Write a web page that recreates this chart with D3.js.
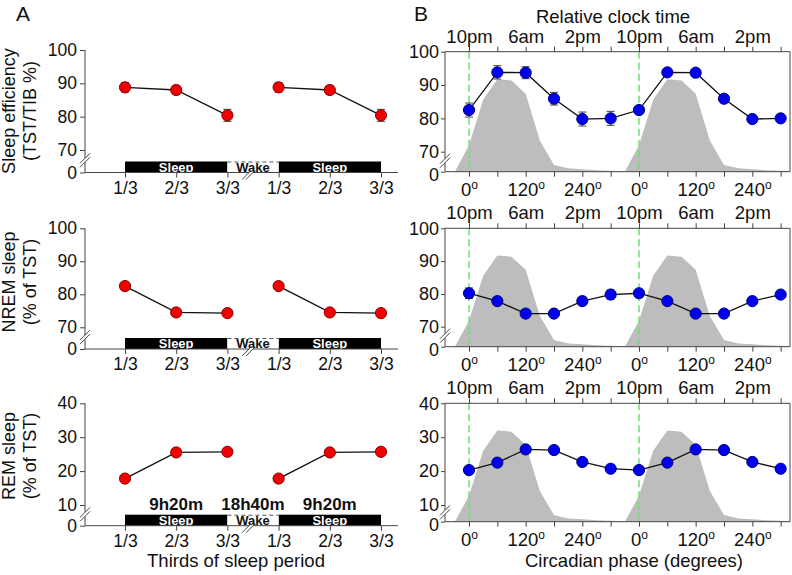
<!DOCTYPE html>
<html><head><meta charset="utf-8">
<script src="https://cdn.jsdelivr.net/npm/d3@7"></script>
<style>
body{margin:0;background:#fff}
svg{display:block}
text{font-family:"Liberation Sans",Arial,Helvetica,sans-serif;fill:#111}
</style>
</head><body>
<svg id="c" width="792" height="575"></svg>
<script>
// ---------- data ----------
const thirds = ["1/3", "2/3", "3/3"];
const effA = [88.8, 88.0, 80.4];
const effAErr = [1.4, 1.3, 1.8];
const nremA = [82.5, 74.5, 74.3];
const nremAErr = [0.8, 0.8, 0.9];
const remA = [17.8, 25.5, 25.7];
const remAErr = [0.9, 0.8, 0.8];

const phases = [0, 60, 120, 180, 240, 300];
const effB = [82.5, 93.8, 93.7, 85.9, 79.8, 80.0];
const effBErr = [2.1, 2.0, 1.8, 1.9, 2.1, 2.1];
const nremB = [80.2, 77.8, 74.0, 74.0, 77.8, 79.8];
const nremBErr = [1.6, 1.2, 1.2, 1.2, 1.2, 1.4];
const remB = [20.3, 22.5, 26.4, 26.2, 22.7, 20.7];
const remBErr = [1.1, 1.0, 1.0, 1.1, 1.0, 1.1];

const melPhase = [-30, 0, 30, 60, 90, 120, 150, 180, 210, 240, 270, 300, 330];
const melLevel = [0, 0.22, 0.6, 0.77, 0.76, 0.65, 0.26, 0.056, 0.028, 0.02, 0.013, 0.008, 0.004];

const clockLabels = ["10pm", "6am", "2pm"];
const degLabels = ["0", "120", "240"];
const durLabels = ["9h20m", "18h40m", "9h20m"];
const pctTicks = [0, 70, 80, 90, 100];
const remTicks = [0, 10, 20, 30, 40];

// ---------- layout ----------
const rows = [
  {lab: ["Sleep efficiency", "(TST/TIB %)"], labY: 111, a: effA, aErr: effAErr, b: effB, bErr: effBErr,
   ticks: pctTicks, brk: 70, max: 100, yMaxA: 50, yBrkA: 150, y0A: 172.5, yMaxB: 51.7, yBrkB: 151.7, y0B: 171.7},
  {lab: ["NREM sleep", "(% of TST)"], labY: 282, a: nremA, aErr: nremAErr, b: nremB, bErr: nremBErr,
   ticks: pctTicks, brk: 70, max: 100, yMaxA: 228.3, yBrkA: 327.3, y0A: 349, yMaxB: 228.3, yBrkB: 326.7, y0B: 346.7},
  {lab: ["REM sleep", "(% of TST)"], labY: 456, a: remA, aErr: remAErr, b: remB, bErr: remBErr,
   ticks: remTicks, brk: 10, max: 40, yMaxA: 403.3, yBrkA: 505, y0A: 525.7, yMaxB: 403.3, yBrkB: 505, y0B: 521.7}
];

const svg = d3.select("#c");
const AXC = "#444";
const xA = d3.scaleLinear().domain([0, 5]).range([125, 381]);
const xB = d3.scaleLinear().domain([0, 360]).range([469, 639]);
const axAx = 85, axAright = 398;
const bL = 445, bR = 790;

function breakY(g, x, yc) {
  g.append("polygon").attr("points", `${x-5},${yc+3} ${x+5},${yc-7} ${x+5},${yc-3} ${x-5},${yc+7}`).attr("fill", "#fff");
  g.append("line").attr("x1", x-5).attr("y1", yc+3).attr("x2", x+5).attr("y2", yc-7).attr("stroke", AXC);
  g.append("line").attr("x1", x-5).attr("y1", yc+7).attr("x2", x+5).attr("y2", yc-3).attr("stroke", AXC);
}

svg.append("text").attr("x", 16).attr("y", 21).attr("font-size", 21).text("A");
svg.append("text").attr("x", 414).attr("y", 21).attr("font-size", 21).text("B");
svg.append("text").attr("x", 613).attr("y", 23).attr("font-size", 18.5).attr("text-anchor", "middle").text("Relative clock time");
svg.append("text").attr("x", 236).attr("y", 567).attr("font-size", 18.5).attr("text-anchor", "middle").text("Thirds of sleep period");
svg.append("text").attr("x", 634).attr("y", 567).attr("font-size", 18.5).attr("text-anchor", "middle").text("Circadian phase (degrees)");

rows.forEach((r, ri) => {
  // ===== Panel A =====
  const g = svg.append("g");
  const y = d3.scaleLinear().domain([0, r.brk, r.max]).range([r.y0A, r.yBrkA, r.yMaxA]);
  g.append("text").attr("transform", `translate(15,${r.labY}) rotate(-90)`).attr("font-size", 18).attr("text-anchor", "middle").text(r.lab[0]);
  g.append("text").attr("transform", `translate(36,${r.labY}) rotate(-90)`).attr("font-size", 18).attr("text-anchor", "middle").text(r.lab[1]);
  const ya = g.append("g").attr("transform", `translate(${axAx},0)`).call(d3.axisLeft(y).tickValues(r.ticks).tickSize(5).tickPadding(3));
  ya.select(".domain").remove();
  ya.selectAll("line").attr("stroke", AXC);
  ya.selectAll("text").attr("font-size", 17.5).attr("font-family", "Liberation Sans, Arial, sans-serif").attr("fill", "#111");
  const ycA = (r.yBrkA + r.y0A) / 2 - 1;
  g.append("line").attr("x1", axAx).attr("x2", axAx).attr("y1", r.yMaxA).attr("y2", ycA - 2).attr("stroke", AXC);
  g.append("line").attr("x1", axAx).attr("x2", axAx).attr("y1", ycA + 2).attr("y2", r.y0A).attr("stroke", AXC);
  breakY(g, axAx, ycA);
  // sleep / wake bars
  const bh = 11;
  [[0, 2, "Sleep"], [3, 5, "Sleep"]].forEach(([s, e, t]) => {
    g.append("rect").attr("x", xA(s)).attr("y", r.y0A - bh).attr("width", xA(e) - xA(s)).attr("height", bh).attr("fill", "#000");
    g.append("text").attr("x", (xA(s) + xA(e)) / 2).attr("y", r.y0A - 0.8).attr("font-size", 13).attr("font-weight", "bold")
      .attr("text-anchor", "middle").style("fill", "#fff").text(t);
  });
  g.append("rect").attr("x", xA(2)).attr("y", r.y0A - bh).attr("width", xA(3) - xA(2)).attr("height", bh).attr("fill", "#fff");
  g.append("line").attr("x1", xA(2)).attr("x2", xA(3)).attr("y1", r.y0A - bh + 0.5).attr("y2", r.y0A - bh + 0.5)
    .attr("stroke", "#555").attr("stroke-dasharray", "4,3");
  g.append("text").attr("x", (xA(2) + xA(3)) / 2).attr("y", r.y0A - 0.8).attr("font-size", 13).attr("font-weight", "bold")
    .attr("text-anchor", "middle").text("Wake");
  if (ri === 2) {
    [[0, 2], [2, 3], [3, 5]].forEach(([s, e], k) => {
      g.append("text").attr("x", (xA(s) + xA(e)) / 2).attr("y", r.y0A - bh - 5).attr("font-size", 17).attr("font-weight", "bold")
        .attr("text-anchor", "middle").text(durLabels[k]);
    });
  }
  // x axis
  const xa = g.append("g").attr("transform", `translate(0,${r.y0A})`).call(d3.axisBottom(xA).tickValues([0, 1, 2, 3, 4, 5]).tickFormat(i => thirds[i % 3]).tickSize(5).tickPadding(4));
  xa.select(".domain").remove();
  xa.selectAll("line").attr("stroke", AXC);
  xa.selectAll("text").attr("font-size", 17.5).attr("font-family", "Liberation Sans, Arial, sans-serif").attr("fill", "#111");
  const xb = 249;
  g.append("line").attr("x1", axAx).attr("x2", xb).attr("y1", r.y0A).attr("y2", r.y0A).attr("stroke", AXC);
  g.append("line").attr("x1", xb + 4).attr("x2", axAright).attr("y1", r.y0A).attr("y2", r.y0A).attr("stroke", AXC);
  g.append("line").attr("x1", xb - 7).attr("y1", r.y0A + 7).attr("x2", xb + 1).attr("y2", r.y0A - 1).attr("stroke", AXC);
  g.append("line").attr("x1", xb - 3).attr("y1", r.y0A + 7).attr("x2", xb + 5).attr("y2", r.y0A - 1).attr("stroke", AXC);
  // data
  [0, 1].forEach(c => {
    const pts = r.a.map((v, j) => ({i: c * 3 + j, v, e: r.aErr[j]}));
    g.append("path").datum(pts).attr("fill", "none").attr("stroke", "#111").attr("stroke-width", 1.3)
      .attr("d", d3.line().x(d => xA(d.i)).y(d => y(d.v)));
    pts.forEach(d => {
      const cx = xA(d.i);
      g.append("line").attr("x1", cx).attr("x2", cx).attr("y1", y(d.v - d.e)).attr("y2", y(d.v + d.e)).attr("stroke", "#444");
      [d.v - d.e, d.v + d.e].forEach(v => g.append("line").attr("x1", cx - 4).attr("x2", cx + 4).attr("y1", y(v)).attr("y2", y(v)).attr("stroke", "#444"));
    });
    g.selectAll(null).data(pts).enter().append("circle").attr("cx", d => xA(d.i)).attr("cy", d => y(d.v)).attr("r", 5.6)
      .attr("fill", "#f00000").attr("stroke", "#8a0000").attr("stroke-width", 1);
  });

  // ===== Panel B =====
  const h = svg.append("g");
  const yb = d3.scaleLinear().domain([0, r.brk, r.max]).range([r.y0B, r.yBrkB, r.yMaxB]);
  const hgt = r.y0B - r.yMaxB;
  const clipId = "clip" + ri;
  h.append("clipPath").attr("id", clipId).append("rect").attr("x", bL).attr("y", r.yMaxB).attr("width", bR - bL).attr("height", hgt);
  const mel = [];
  [0, 360].forEach(off => melPhase.forEach((p, k) => mel.push({p: p + off, v: melLevel[k]})));
  h.append("path").datum(mel).attr("clip-path", `url(#${clipId})`).attr("fill", "#bdbdbd")
    .attr("d", d3.area().x(d => xB(d.p)).y0(r.y0B).y1(d => r.y0B - d.v * hgt));
  [0, 360].forEach(p => h.append("line").attr("x1", xB(p)).attr("x2", xB(p)).attr("y1", r.yMaxB).attr("y2", r.y0B)
    .attr("stroke", "#6fe06f").attr("stroke-width", 1.5).attr("stroke-dasharray", "7,4"));
  const ycB = (r.yBrkB + r.y0B) / 2 - 1;
  h.append("path").attr("fill", "none").attr("stroke", AXC)
    .attr("d", `M${bL},${ycB - 2}V${r.yMaxB}H${bR}V${r.y0B}H${bL}V${ycB + 2}`);
  breakY(h, bL, ycB);
  const ticksDeg = d3.range(0, 661, 60);
  const ya2 = h.append("g").attr("transform", `translate(${bL},0)`).call(d3.axisLeft(yb).tickValues(r.ticks).tickSize(4).tickPadding(2));
  ya2.select(".domain").remove();
  ya2.selectAll("line").attr("stroke", AXC);
  ya2.selectAll("text").attr("font-size", 18).attr("font-family", "Liberation Sans, Arial, sans-serif").attr("fill", "#111");
  ya2.selectAll(".tick").filter(d => d === 0).select("text").attr("dy", "0.5em");
  const xb2 = h.append("g").attr("transform", `translate(0,${r.y0B})`).call(d3.axisBottom(xB).tickValues(ticksDeg).tickSize(5).tickPadding(5).tickFormat(""));
  xb2.select(".domain").remove();
  xb2.selectAll("line").attr("stroke", AXC);
  xb2.selectAll(".tick").each(function(d) {
    if (d % 120 !== 0) return;
    const t = d3.select(this).append("text").attr("y", 24).attr("font-size", 18.5).attr("text-anchor", "middle").attr("fill", "#111")
      .attr("font-family", "Liberation Sans, Arial, sans-serif");
    t.append("tspan").text(degLabels[(d % 360) / 120]);
    t.append("tspan").attr("dy", -7).attr("font-size", 12).text("o");
  });
  const xt2 = h.append("g").attr("transform", `translate(0,${r.yMaxB})`).call(d3.axisTop(xB).tickValues(ticksDeg).tickSize(5).tickPadding(5).tickFormat(""));
  xt2.select(".domain").remove();
  xt2.selectAll("line").attr("stroke", AXC);
  xt2.selectAll(".tick").each(function(d) {
    if (d % 120 !== 0) return;
    d3.select(this).append("text").attr("y", -9).attr("font-size", 18.5).attr("text-anchor", "middle").attr("fill", "#111")
      .attr("font-family", "Liberation Sans, Arial, sans-serif").text(clockLabels[(d % 360) / 120]);
  });
  // data
  const ptsB = [];
  [0, 360].forEach(off => r.b.forEach((v, k) => ptsB.push({p: phases[k] + off, v, e: off === 0 ? r.bErr[k] : 0})));
  h.append("path").datum(ptsB).attr("fill", "none").attr("stroke", "#111").attr("stroke-width", 1.3)
    .attr("d", d3.line().x(d => xB(d.p)).y(d => yb(d.v)));
  ptsB.filter(d => d.e > 0).forEach(d => {
    const cx = xB(d.p);
    h.append("line").attr("x1", cx).attr("x2", cx).attr("y1", yb(d.v - d.e)).attr("y2", yb(d.v + d.e)).attr("stroke", "#444");
    [d.v - d.e, d.v + d.e].forEach(v => h.append("line").attr("x1", cx - 4).attr("x2", cx + 4).attr("y1", yb(v)).attr("y2", yb(v)).attr("stroke", "#444"));
  });
  h.selectAll(null).data(ptsB).enter().append("circle").attr("cx", d => xB(d.p)).attr("cy", d => yb(d.v)).attr("r", 5.6)
    .attr("fill", "#0000f0").attr("stroke", "#00007a").attr("stroke-width", 1);
});
</script>
</body></html>
